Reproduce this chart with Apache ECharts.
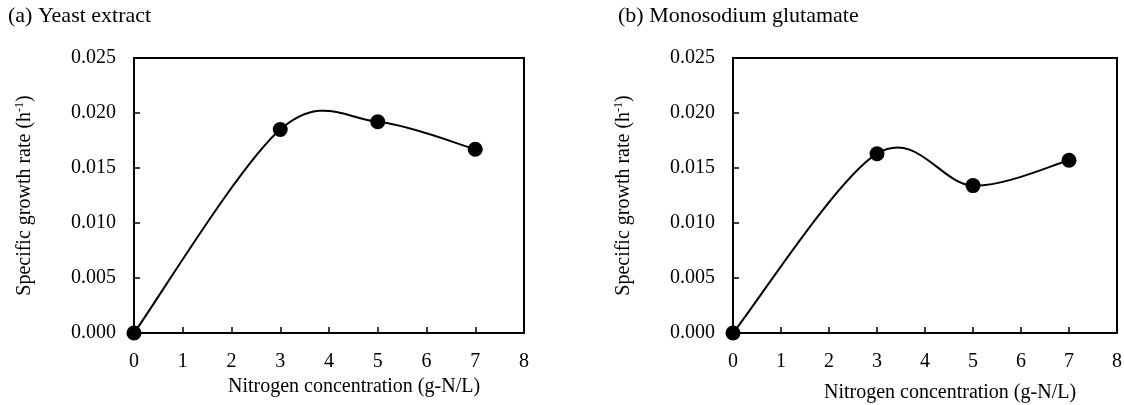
<!DOCTYPE html>
<html>
<head>
<meta charset="utf-8">
<script src="https://cdn.jsdelivr.net/npm/echarts@6/dist/echarts.min.js"></script>
<style>
html,body{margin:0;padding:0;background:#fff;}
#chart{width:1124px;height:405px;}
</style>
</head>
<body>
<div id="chart"></div>
<script>
// Data
const nitrogenConc = [0, 3, 5, 7];
const yeastExtract = [0.0000, 0.0185, 0.0192, 0.0167];
const monosodiumGlutamate = [0.0000, 0.0163, 0.0134, 0.0157];
const xTicks = [0, 1, 2, 3, 4, 5, 6, 7, 8];
const yTickLabels = ['0.000', '0.005', '0.010', '0.015', '0.020', '0.025'];
const panelTitles = ['(a) Yeast extract', '(b) Monosodium glutamate'];
const xTitle = 'Nitrogen concentration (g-N/L)';
const yTitle = 'Specific growth rate (h{sup|-1})';

const FONT = '"Liberation Serif", "Times New Roman", serif';
const chart = echarts.init(document.getElementById('chart'));

function pairs(ys) { return nitrogenConc.map((x, i) => [x, ys[i]]); }

const grids = [
  { left: 134, top: 58, width: 390, height: 275 },
  { left: 733, top: 58, width: 384, height: 275 }
];

function xAxisCfg(idx, gap) {
  return {
    gridIndex: idx, type: 'value', min: xTicks[0], max: xTicks[xTicks.length - 1], interval: 1,
    name: xTitle, nameLocation: 'middle', nameGap: gap,
    nameTextStyle: { fontFamily: FONT, fontSize: 20, color: '#000', padding: [0, 0, 0, 50] },
    axisLine: { show: true, onZero: false, lineStyle: { color: '#000', width: 2 } },
    axisTick: { show: true, inside: true, length: 6, lineStyle: { color: '#000', width: 1.5 } },
    axisLabel: { fontFamily: FONT, fontSize: 20, color: '#000', margin: 19 },
    splitLine: { show: false }
  };
}
function yAxisCfg(idx) {
  return {
    gridIndex: idx, type: 'value', min: 0, max: 0.025, interval: 0.005,
    name: yTitle, nameLocation: 'middle', nameGap: 98, nameRotate: 90,
    nameTextStyle: {
      fontFamily: FONT, fontSize: 20, color: '#000', lineHeight: 22,
      rich: { sup: { fontFamily: FONT, fontSize: 12, color: '#000', verticalAlign: 'top', lineHeight: 22 } }
    },
    axisLine: { show: true, onZero: false, lineStyle: { color: '#000', width: 2 } },
    axisTick: { show: true, inside: true, length: 6, lineStyle: { color: '#000', width: 1.5 } },
    axisLabel: {
      fontFamily: FONT, fontSize: 20, color: '#000', margin: 18,
      formatter: (v) => yTickLabels[Math.round(v / 0.005)]
    },
    splitLine: { show: false }
  };
}

// Smoothed curve (Catmull-Rom style Bezier, as in spreadsheet "smoothed line"),
// drawn segment by segment through the axis scales via api.coord.
function curveSeries(idx, ys) {
  const data = pairs(ys);
  return {
    type: 'custom', xAxisIndex: idx, yAxisIndex: idx, data: data,
    coordinateSystem: 'cartesian2d', silent: true, z: 3,
    renderItem: function (params, api) {
      const i = params.dataIndex;
      const n = data.length;
      if (i >= n - 1) return null;
      const P = (k) => api.coord(data[Math.max(0, Math.min(n - 1, k))]);
      const p0 = P(i - 1), p1 = P(i), p2 = P(i + 1), p3 = P(i + 2);
      const c1 = [p1[0] + (p2[0] - p0[0]) / 6, p1[1] + (p2[1] - p0[1]) / 6];
      const c2 = [p2[0] - (p3[0] - p1[0]) / 6, p2[1] - (p3[1] - p1[1]) / 6];
      return {
        type: 'bezierCurve',
        shape: { x1: p1[0], y1: p1[1], x2: p2[0], y2: p2[1], cpx1: c1[0], cpy1: c1[1], cpx2: c2[0], cpy2: c2[1] },
        style: { stroke: '#000', lineWidth: 2, fill: null }
      };
    }
  };
}
function dotSeries(idx, ys) {
  return {
    type: 'scatter', xAxisIndex: idx, yAxisIndex: idx, data: pairs(ys),
    symbol: 'circle', symbolSize: 15, itemStyle: { color: '#000', opacity: 1 }, z: 5
  };
}

chart.setOption({
  animation: false,
  backgroundColor: '#fff',
  grid: grids.map(g => Object.assign({
    show: true, borderColor: '#000', borderWidth: 2, backgroundColor: 'transparent',
    containLabel: false, outerBoundsMode: 'none'
  }, g)),
  graphic: [
    { type: 'text', left: 8, top: 5, style: { text: panelTitles[0], font: '22px ' + FONT, fill: '#000' } },
    { type: 'text', left: 618, top: 5, style: { text: panelTitles[1], font: '22px ' + FONT, fill: '#000' } }
  ],
  xAxis: [xAxisCfg(0, 42), xAxisCfg(1, 50)],
  yAxis: [yAxisCfg(0), yAxisCfg(1)],
  series: [
    curveSeries(0, yeastExtract), dotSeries(0, yeastExtract),
    curveSeries(1, monosodiumGlutamate), dotSeries(1, monosodiumGlutamate)
  ]
});
</script>
</body>
</html>
